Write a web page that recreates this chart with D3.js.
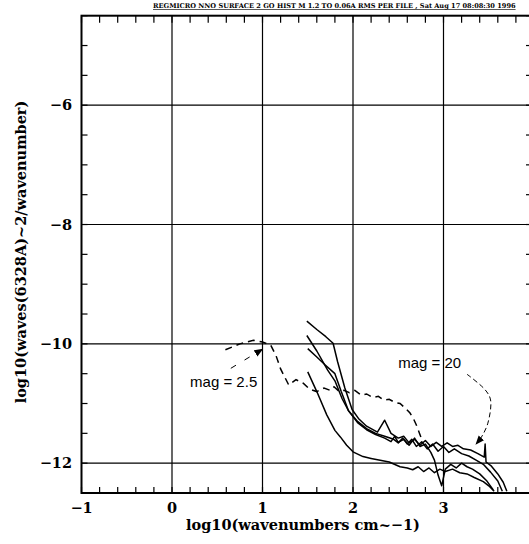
<!DOCTYPE html>
<html>
<head>
<meta charset="utf-8">
<script src="https://cdn.jsdelivr.net/npm/d3@7"></script>
<style>
  html, body { margin: 0; padding: 0; background: #fff; }
  svg { display: block; }
  .tick-label { font-family: "DejaVu Serif", serif; font-size: 14.5px; font-weight: bold; fill: #000; }
  .axis-title { font-family: "DejaVu Serif", serif; font-size: 14.5px; font-weight: bold; fill: #000; }
  .note { font-family: "Liberation Sans", Arial, sans-serif; font-size: 15px; fill: #000; }
</style>
</head>
<body>
<div id="chart"></div>
<script>
(() => {
  "use strict";

  // --- data (x = log10 wavenumber, y = log10 PSD) ---
  const xTicks = [-1, 0, 1, 2, 3];
  const yTicks = [-12, -10, -8, -6];
  const xGrid = [0, 1, 2, 3];
  const yGrid = [-12, -10, -8, -6];

  const magLow = [ // dashed, mag = 2.5
    [0.59,-10.1],[0.75,-10.0],[0.9,-9.94],[1.0,-9.97],[1.09,-10.02],[1.15,-10.2],[1.2,-10.42],
    [1.29,-10.69],[1.37,-10.6],[1.45,-10.66],[1.52,-10.76],[1.6,-10.8],[1.68,-10.74],[1.75,-10.78],
    [1.79,-10.72],[1.85,-10.8],[1.9,-10.78],[1.96,-10.82],[2.02,-10.78],[2.09,-10.86],[2.15,-10.84],
    [2.22,-10.9],[2.28,-10.88],[2.34,-10.94],[2.4,-10.93],[2.46,-10.98],[2.52,-11.0],[2.58,-11.08],
    [2.63,-11.16],[2.67,-11.26],[2.7,-11.36],[2.73,-11.48],[2.75,-11.56]
  ];

  const curveA = [
    [1.49,-9.62],[1.6,-9.76],[1.7,-9.88],[1.78,-9.99],[1.83,-10.3],[1.91,-10.74],[1.99,-11.1],
    [2.06,-11.25],[2.15,-11.38],[2.27,-11.48],[2.35,-11.28],[2.42,-11.5],[2.5,-11.58],[2.56,-11.55],
    [2.62,-11.66],[2.68,-11.6],[2.74,-11.7],[2.8,-11.62],[2.86,-11.72],[2.92,-11.65],[2.98,-11.72],
    [3.04,-11.66],[3.1,-11.72],[3.16,-11.7],[3.22,-11.76],[3.3,-11.78],[3.38,-11.84],[3.45,-11.9],
    [3.46,-11.68],[3.47,-11.98],[3.53,-12.05],[3.6,-12.18],[3.66,-12.32],[3.7,-12.47]
  ];
  const curveB = [
    [1.49,-9.86],[1.6,-10.12],[1.72,-10.44],[1.8,-10.62],[1.88,-10.92],[1.95,-11.12],[2.05,-11.3],
    [2.15,-11.42],[2.25,-11.5],[2.35,-11.55],[2.45,-11.6],[2.5,-11.66],[2.55,-11.58],[2.6,-11.68],
    [2.65,-11.6],[2.7,-11.72],[2.76,-11.64],[2.82,-11.76],[2.88,-11.68],[2.94,-11.8],[3.0,-11.72],
    [3.06,-11.82],[3.12,-11.76],[3.2,-11.84],[3.28,-11.88],[3.36,-11.95],[3.44,-12.02],[3.52,-12.15],
    [3.6,-12.3],[3.65,-12.47]
  ];
  const curveC = [
    [1.5,-10.08],[1.6,-10.22],[1.69,-10.35],[1.8,-10.5],[1.87,-10.8],[1.95,-11.12],[2.05,-11.32],
    [2.15,-11.44],[2.25,-11.52],[2.35,-11.58],[2.42,-11.64],[2.46,-11.55],[2.5,-11.65],[2.56,-11.6],
    [2.62,-11.7],[2.68,-11.58],[2.74,-11.72],[2.8,-11.68],[2.86,-11.82],[2.9,-11.95],[2.94,-12.2],
    [2.98,-12.38],[3.02,-12.1],[3.08,-12.02],[3.14,-12.08],[3.2,-12.0],[3.26,-12.06],[3.32,-12.1],
    [3.4,-12.18],[3.48,-12.3],[3.55,-12.45]
  ];
  const curveD = [
    [1.5,-10.47],[1.6,-10.8],[1.71,-11.19],[1.8,-11.45],[1.86,-11.56],[1.93,-11.7],[2.0,-11.81],
    [2.11,-11.89],[2.2,-11.92],[2.3,-11.95],[2.4,-11.98],[2.52,-12.06],[2.6,-12.08],[2.66,-12.11],
    [2.72,-12.06],[2.78,-12.14],[2.84,-12.08],[2.9,-12.16],[2.96,-12.1],[3.02,-12.14],[3.1,-12.1],
    [3.18,-12.16],[3.26,-12.18],[3.34,-12.24],[3.44,-12.31],[3.5,-12.38],[3.56,-12.47]
  ];
  const magHigh = [curveA, curveB, curveC, curveD];

  // annotation anchors, in data units
  const lowLabel = { text: "mag = 2.5", x: 0.2, y: -10.72 };
  const lowLeader = [[0.65,-10.41],[1.0,-10.09]];
  const highLabel = { text: "mag = 20", x: 2.5, y: -10.41 };
  const highLeader = [[3.26,-10.51],[3.46,-10.77],[3.52,-10.94],[3.49,-11.33],[3.42,-11.56],[3.36,-11.68]];

  const title = "REGMICRO NNO SURFACE 2 GO HIST M 1.2 TO 0.06A RMS PER FILE , Sat Aug 17 08:08:30 1996";

  const W = 529, H = 544;
  const x = d3.scaleLinear().domain([-1, 4]).range([81.5, 534]);
  const y = d3.scaleLinear().domain([-12.5, -4.5]).range([493, 15.7]);

  const svg = d3.select("#chart").append("svg").attr("width", W).attr("height", H);

  // grid
  svg.append("g").selectAll("line").data(xGrid).join("line")
    .attr("x1", x).attr("x2", x).attr("y1", y(-4.5)).attr("y2", y(-12.5))
    .attr("stroke", "#000").attr("stroke-width", 1.2);
  svg.append("g").selectAll("line").data(yGrid).join("line")
    .attr("x1", x(-1)).attr("x2", x(4)).attr("y1", y).attr("y2", y)
    .attr("stroke", "#000").attr("stroke-width", 1.2);

  // frame
  svg.append("rect")
    .attr("x", x(-1)).attr("y", y(-4.5))
    .attr("width", x(4) - x(-1)).attr("height", y(-12.5) - y(-4.5))
    .attr("fill", "none").attr("stroke", "#000").attr("stroke-width", 2);

  // minor ticks
  const xMinor = d3.range(-1, 4.001, 0.2);
  const yMinor = d3.range(-12.5, -4.49, 0.5);
  svg.append("g").selectAll("line").data(xMinor).join("line")
    .attr("x1", x).attr("x2", x).attr("y1", y(-12.5)).attr("y2", y(-12.5) - 6)
    .attr("stroke", "#000").attr("stroke-width", 1.2);
  svg.append("g").selectAll("line").data(xMinor).join("line")
    .attr("x1", x).attr("x2", x).attr("y1", y(-4.5)).attr("y2", y(-4.5) + 7)
    .attr("stroke", "#000").attr("stroke-width", 1.2);
  svg.append("g").selectAll("line").data(yMinor).join("line")
    .attr("x1", x(-1)).attr("x2", x(-1) + 6).attr("y1", y).attr("y2", y)
    .attr("stroke", "#000").attr("stroke-width", 1.2);
  svg.append("g").selectAll("line").data(yMinor).join("line")
    .attr("x1", x(4)).attr("x2", x(4) - 8).attr("y1", y).attr("y2", y)
    .attr("stroke", "#000").attr("stroke-width", 1.2);

  // tick labels
  svg.append("g").selectAll("text").data(xTicks).join("text")
    .attr("class", "tick-label").attr("x", x).attr("y", 513)
    .attr("text-anchor", "middle")
    .text((d) => (d < 0 ? "\u2212" + Math.abs(d) : d));
  svg.append("g").selectAll("text").data(yTicks).join("text")
    .attr("class", "tick-label").attr("x", 72).attr("y", (d) => y(d) + 5)
    .attr("text-anchor", "end")
    .text((d) => "\u2212" + Math.abs(d));

  // axis titles
  svg.append("text").attr("class", "axis-title")
    .attr("x", 303).attr("y", 530).attr("text-anchor", "middle")
    .text("log10(wavenumbers cm~\u22121)");
  svg.append("text").attr("class", "axis-title")
    .attr("transform", "translate(26,252) rotate(-90)").attr("text-anchor", "middle")
    .text("log10(waves(6328A)~2/wavenumber)");

  svg.append("text")
    .attr("x", 153).attr("y", 8)
    .style("font-family", "DejaVu Serif, serif").style("font-size", "6.6px")
    .style("font-weight", "bold").style("text-decoration", "underline")
    .text(title);

  // curves
  const line = d3.line().x((d) => x(d[0])).y((d) => y(d[1]));
  const plot = svg.append("g");
  plot.append("path").datum(magLow)
    .attr("d", line).attr("fill", "none").attr("stroke", "#000")
    .attr("stroke-width", 1.5).attr("stroke-dasharray", "7,5");
  plot.selectAll("path.hi").data(magHigh).join("path")
    .attr("class", "hi").attr("d", line).attr("fill", "none")
    .attr("stroke", "#000").attr("stroke-width", 1.5).attr("stroke-linejoin", "round");

  // annotations
  svg.append("defs").append("marker")
    .attr("id", "arr").attr("viewBox", "0 0 10 10").attr("refX", 9).attr("refY", 5)
    .attr("markerWidth", 9).attr("markerHeight", 9).attr("orient", "auto")
    .attr("markerUnits", "userSpaceOnUse")
    .append("path").attr("d", "M0,1 L10,5 L0,9 Z").attr("fill", "#000");

  [lowLabel, highLabel].forEach((l) =>
    svg.append("text").attr("class", "note").attr("x", x(l.x)).attr("y", y(l.y)).text(l.text));

  const smooth = d3.line().x((d) => x(d[0])).y((d) => y(d[1])).curve(d3.curveCatmullRom);
  svg.append("path").datum(lowLeader).attr("d", smooth)
    .attr("fill", "none").attr("stroke", "#000").attr("stroke-width", 1)
    .attr("stroke-dasharray", "6,10").attr("marker-end", "url(#arr)");
  svg.append("path").datum(highLeader).attr("d", smooth)
    .attr("fill", "none").attr("stroke", "#000").attr("stroke-width", 1)
    .attr("stroke-dasharray", "5,3").attr("marker-end", "url(#arr)");
})();
</script>
</body>
</html>
